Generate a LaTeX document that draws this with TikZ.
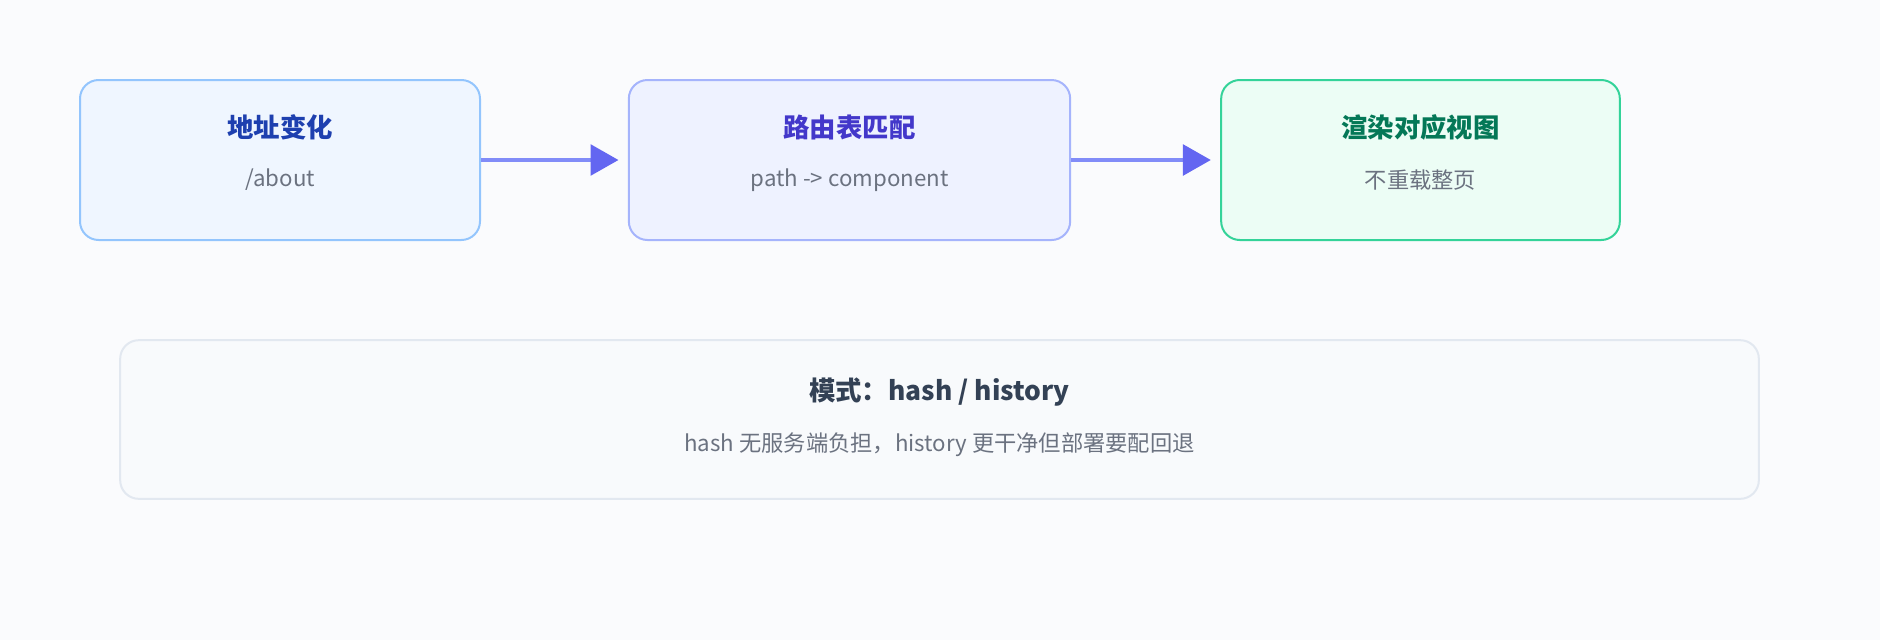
\documentclass[tikz,border=0pt]{standalone}
\usepackage{fontspec}
\setmainfont{Noto Sans CJK SC}
\usetikzlibrary{arrows.meta}
\definecolor{pagebg}{HTML}{FAFBFD}
\definecolor{addrfill}{HTML}{EFF6FF}
\definecolor{addrline}{HTML}{93C5FD}
\definecolor{addrtext}{HTML}{1E40AF}
\definecolor{matchfill}{HTML}{EEF2FF}
\definecolor{matchline}{HTML}{A5B4FC}
\definecolor{matchtext}{HTML}{4338CA}
\definecolor{viewfill}{HTML}{ECFDF5}
\definecolor{viewline}{HTML}{34D399}
\definecolor{viewtext}{HTML}{047857}
\definecolor{modefill}{HTML}{F8FAFC}
\definecolor{modeline}{HTML}{E2E8F0}
\definecolor{modetext}{HTML}{334155}
\definecolor{subtext}{HTML}{6B7280}
\definecolor{flowline}{HTML}{818CF8}
\definecolor{flowhead}{HTML}{6366F1}
\tikzset{
  card/.style={draw, line width=1.5pt, rounded corners=14pt, minimum height=120pt},
  headtext/.style={font=\bfseries\fontsize{19.8}{24}\selectfont},
  subline/.style={text=subtext, font=\fontsize{16.7}{20}\selectfont},
  flow/.style={draw=flowline, line width=3pt, shorten >=7pt,
    -{Triangle[length=21pt, width=23pt, color=flowhead]}},
}
\begin{document}
\begin{tikzpicture}[x=0.75pt, y=-0.75pt]%
   % 1 unit = 1 px of the 1880 x 640 picture, y pointing down
   \useasboundingbox[fill=pagebg] (0,0) rectangle (1880,640);

   % Top row
   \node[card, fill=addrfill, draw=addrline, minimum width=300pt] (addr) at (280,160) {};
   \node[card, fill=matchfill, draw=matchline, minimum width=331pt] (match) at (849.5,160) {};
   \node[card, fill=viewfill, draw=viewline, minimum width=299pt] (view) at (1420.5,160) {};

   \node[headtext, text=addrtext] (addrhead) at (280,127) {地址变化};
   \node[subline] (addrsub) at (280,180) {/about};
   \node[headtext, text=matchtext] (matchhead) at (849.5,127) {路由表匹配};
   \node[subline] (matchsub) at (849.5,180) {path -> component};
   \node[headtext, text=viewtext] (viewhead) at (1420.5,127) {渲染对应视图};
   \node[subline] (viewsub) at (1420.5,180) {不重载整页};

   % Arrows
   \draw[flow] (addr) -- (match);
   \draw[flow] (match) -- (view);

   % Mode note
   \node[card, fill=modefill, draw=modeline, minimum width=1229pt, minimum height=119pt] (mode) at (939.5,419.5) {};
   \node[headtext, text=modetext] (modehead) at (939.5,392) {模式：hash / history};
   \node[subline] (modesub) at (939.5,445) {hash 无服务端负担，history 更干净但部署要配回退};
 \end{tikzpicture}
\end{document}
